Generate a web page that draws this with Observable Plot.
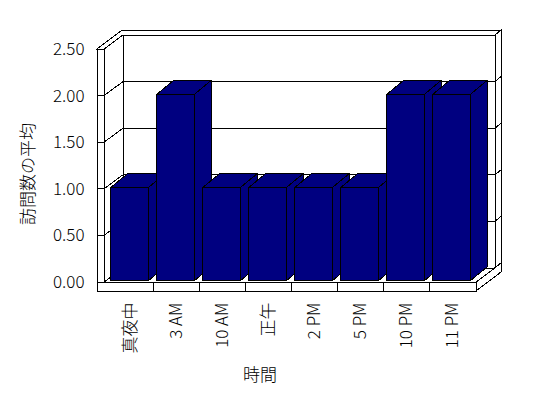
<!DOCTYPE html>
<html><head><meta charset="utf-8">
<script src="https://cdn.jsdelivr.net/npm/d3@7"></script>
<script src="https://cdn.jsdelivr.net/npm/@observablehq/plot@0.6"></script>
<style>body{margin:0;background:#fff}</style>
</head><body><div id="chart"></div>
<script>
const categories = ["真夜中", "3 AM", "10 AM", "正午", "2 PM", "5 PM", "10 PM", "11 PM"];
const values = [1, 2, 1, 1, 1, 1, 2, 2];
const yTicks = [0, 0.5, 1, 1.5, 2, 2.5];
const yTickLabels = ["0.00", "0.50", "1.00", "1.50", "2.00", "2.50"];
const xTitle = "時間";
const yTitle = "訪問数の平均";

const data = categories.map((c, i) => ({cat: c, val: values[i]}));

// 3D styling constants (pixels)
const D = [19, -14];        // floor/wall depth
const BT = [6, -5];         // back wall thickness
const WT = 7;               // left wall thickness
const FT = 9;               // floor thickness
const BD = [17, -14];       // bar depth
const BS = 0.1;             // bar front offset (fraction of depth)
const BAR_INSET = 2;
const BAR_GAP = 8.4;
const NAVY = "#000080";

const P = a => a.map(p => p.join(",")).join(" ");

function frame3d(index, scales, vals, dims) {
  const {x, y} = scales;
  const g = d3.create("svg:g").attr("shape-rendering", "crispEdges")
    .attr("stroke", "black").attr("stroke-width", 1).attr("fill", "white");
  const X0 = dims.marginLeft - 1, X1 = dims.width - dims.marginRight;
  const Y0 = y(yTicks[0]), YT = y(yTicks[yTicks.length - 1]);
  const poly = a => g.append("polygon").attr("points", P(a));
  const line = (a, b) => g.append("line").attr("x1", a[0]).attr("y1", a[1]).attr("x2", b[0]).attr("y2", b[1]);
  // back wall face
  poly([[X0 + D[0], YT + D[1]], [X1 + D[0], YT + D[1]], [X1 + D[0], Y0 + D[1]], [X0 + D[0], Y0 + D[1]]]);
  // right end face of back wall + floor
  poly([[X1 + D[0], YT + D[1]], [X1 + D[0] + BT[0], YT + D[1] + BT[1]],
        [X1 + D[0] + BT[0], Y0 + D[1] + BT[1]], [X1 + D[0], Y0 + D[1]]]);
  poly([[X1, Y0], [X1 + D[0] + BT[0], Y0 + D[1] + BT[1]], [X1 + D[0] + BT[0], Y0 + D[1] + BT[1] + FT], [X1, Y0 + FT]]);
  // floor top
  poly([[X0, Y0], [X1, Y0], [X1 + D[0], Y0 + D[1]], [X0 + D[0], Y0 + D[1]]]);
  // left wall inner face
  poly([[X0, YT], [X0 + D[0], YT + D[1]], [X0 + D[0], Y0 + D[1]], [X0, Y0]]);
  // wall tops
  poly([[X0 - WT, YT], [X0, YT], [X0 + D[0], YT + D[1]], [X1 + D[0], YT + D[1]],
        [X1 + D[0] + BT[0], YT + D[1] + BT[1]], [X0 - WT + D[0] + BT[0], YT + D[1] + BT[1]]]);
  // left wall front face
  poly([[X0 - WT, YT], [X0, YT], [X0, Y0], [X0 - WT, Y0]]);
  // floor front face
  poly([[X0 - WT, Y0], [X1, Y0], [X1, Y0 + FT], [X0 - WT, Y0 + FT]]);
  // gridlines
  for (const v of yTicks.slice(1, -1)) {
    const yy = y(v);
    line([X0 + D[0], yy + D[1]], [X1 + D[0], yy + D[1]]);
    line([X0, yy], [X0 + D[0], yy + D[1]]);
    line([X0 - WT, yy], [X0, yy]);
    line([X1 + D[0], yy + D[1]], [X1 + D[0] + BT[0], yy + D[1] + BT[1]]);
  }
  // category separators on floor front
  for (const c of categories.slice(1)) {
    const xx = x(c);
    line([xx, Y0], [xx, Y0 + FT]);
  }
  return g.node();
}

function bars3d(index, scales, vals, dims) {
  const {x, y} = scales;
  const bw = x.bandwidth();
  const g = d3.create("svg:g").attr("shape-rendering", "crispEdges")
    .attr("stroke", "black").attr("stroke-width", 1).attr("fill", NAVY);
  const sx = BS * D[0], sy = BS * D[1];
  const Y0 = y(0) + sy;
  for (const d of data) {
    const xl = x(d.cat) + BAR_INSET + sx;
    const xr = xl + bw - BAR_GAP;
    const yt = y(d.val) + sy;
    g.append("polygon").attr("points", P([[xr, yt], [xr + BD[0], yt + BD[1]], [xr + BD[0], Y0 + BD[1]], [xr, Y0]]));
    g.append("polygon").attr("points", P([[xl, yt], [xr, yt], [xr + BD[0], yt + BD[1]], [xl + BD[0], yt + BD[1]]]));
    g.append("polygon").attr("points", P([[xl, yt], [xr, yt], [xr, Y0], [xl, Y0]]));
  }
  return g.node();
}

const chart = Plot.plot({
  width: 548,
  height: 398,
  marginLeft: 105,
  marginRight: 72,
  marginTop: 49,
  marginBottom: 116,
  style: {fontFamily: "'Noto Sans CJK JP', 'Noto Sans', sans-serif", fontSize: "17px", fontWeight: 300, background: "white", color: "black"},
  x: {type: "band", domain: categories, padding: 0},
  y: {domain: [yTicks[0], yTicks[yTicks.length - 1]]},
  marks: [
    Plot.barY(data, {x: "cat", y: "val", fill: "none", stroke: "none"}),
    frame3d,
    bars3d,
    Plot.axisY({ticks: yTicks, tickFormat: d => yTickLabels[yTicks.indexOf(d)], tickSize: 0, tickPadding: 21, fontSize: 17, fontWeight: 300, label: null}),
    Plot.axisX({tickRotate: -90, tickSize: 0, tickPadding: 20, fontSize: 17, fontWeight: 300, label: null}),
    Plot.text([yTitle], {frameAnchor: "left", textAnchor: "middle", rotate: -90, dx: -77, dy: 8, fontSize: 17, fontWeight: 300}),
    Plot.text([xTitle], {frameAnchor: "bottom", dx: -31, dy: 98, fontSize: 17, fontWeight: 300})
  ]
});
document.getElementById("chart").appendChild(chart);
</script>
</body></html>
